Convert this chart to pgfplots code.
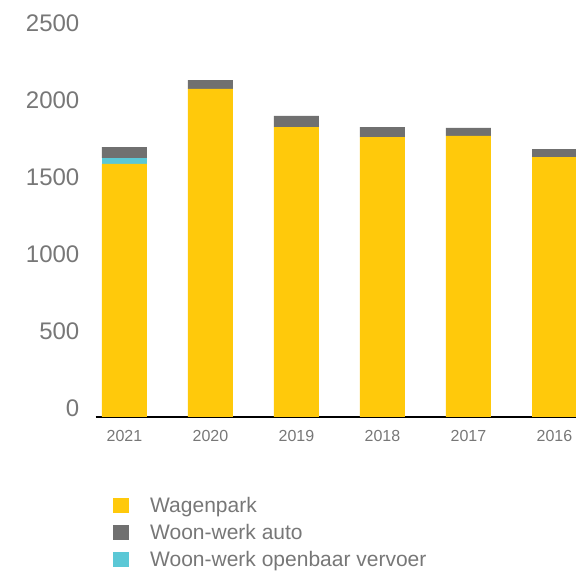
\documentclass[border=0pt]{standalone}
\usepackage{pgfplots}
\pgfplotsset{compat=1.18}
\usepackage{fontspec}
\setmainfont{Liberation Sans}
\definecolor{cyel}{HTML}{FFC90B}
\definecolor{cgray}{HTML}{707070}
\definecolor{ccyan}{HTML}{5BC8D6}
\definecolor{ctext}{HTML}{777777}
\begin{document}
\begin{tikzpicture}
\path[use as bounding box] (0,0) rectangle (576pt,573pt);
\begin{axis}[
  at={(95.5pt,156pt)}, anchor=south west,
  scale only axis, width=480.5pt, height=400.4pt,
  xmin=-0.337, xmax=5.25, ymin=0, ymax=2600,
  ybar stacked, bar width=45pt,
  axis x line*=bottom, axis y line*=left,
  y axis line style={draw=none},
  x axis line style={-, line width=2.3pt, black},
  xtick={0,1,2,3,4,5},
  xticklabels={2021,2020,2019,2018,2017,2016},
  ytick={0,500,1000,1500,2000,2500},
  tick style={draw=none},
  /pgf/number format/assume math mode=true,
  /pgf/number format/1000 sep={},
  xticklabel style={anchor=north, inner sep=0pt, yshift=-13pt, text=ctext, font=\fontsize{16}{19}\selectfont},
  yticklabel style={anchor=south east, inner sep=0pt, xshift=-16pt, text=ctext, font=\fontsize{24}{28}\selectfont},
  clip=true,
  legend image code/.code={\fill[#1, draw=none] (0pt,-7.5pt) rectangle (16pt,7.5pt);},
  legend cell align=left,
  legend style={at={(0.0364,-0.2005)}, anchor=north west, draw=none, fill=none,
    inner sep=0pt, font=\fontsize{21}{24}\selectfont, text=ctext,
    row sep=10pt, column sep=21pt,
    nodes={inner sep=0pt}},
]
\addplot[fill=cyel, draw=none, forget plot] coordinates {(0,1643) (1,2130) (2,1883) (3,1818) (4,1825) (5,1688)};
\addplot[fill=ccyan, draw=none, forget plot] coordinates {(0,39) (1,0) (2,0) (3,0) (4,0) (5,0)};
\addplot[fill=cgray, draw=none, forget plot] coordinates {(0,71) (1,58) (2,72) (3,65) (4,52) (5,52)};
\addlegendimage{fill=cyel, draw=none}
\addlegendentry{Wagenpark}
\addlegendimage{fill=cgray, draw=none}
\addlegendentry{Woon-werk auto}
\addlegendimage{fill=ccyan, draw=none}
\addlegendentry{Woon-werk openbaar vervoer}
\end{axis}
\end{tikzpicture}
\end{document}
